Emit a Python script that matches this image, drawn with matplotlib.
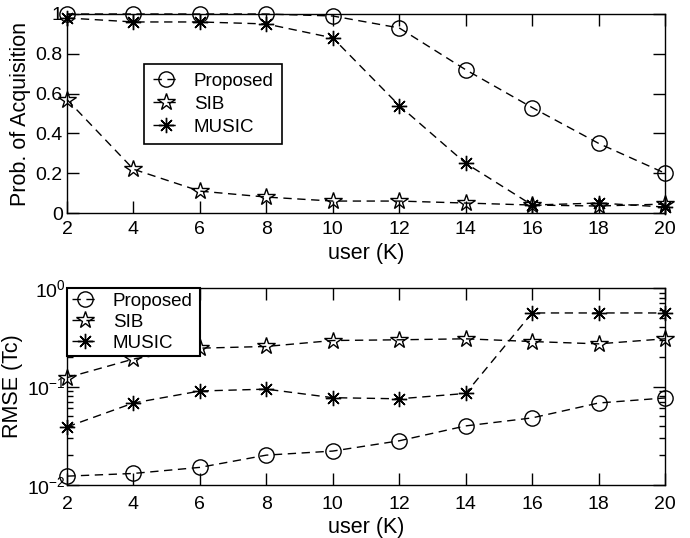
import matplotlib
matplotlib.use("Agg")
import matplotlib.pyplot as plt
from matplotlib.ticker import FixedLocator, FixedFormatter, LogLocator, NullFormatter

plt.rcParams['font.family'] = ['Liberation Sans', 'DejaVu Sans']
plt.rcParams['mathtext.fontset'] = 'custom'
plt.rcParams['mathtext.rm'] = 'Liberation Sans'

users = [2, 4, 6, 8, 10, 12, 14, 16, 18, 20]

# Probability of acquisition
pa_proposed = [1.00, 1.00, 1.00, 1.00, 0.99, 0.93, 0.72, 0.53, 0.35, 0.20]
pa_sib      = [0.57, 0.22, 0.11, 0.08, 0.06, 0.06, 0.05, 0.04, 0.035, 0.045]
pa_music    = [0.98, 0.96, 0.96, 0.95, 0.88, 0.54, 0.25, 0.04, 0.05, 0.03]

# RMSE (Tc)
rm_proposed = [0.0123, 0.0131, 0.0151, 0.0201, 0.0221, 0.0281, 0.0398, 0.048, 0.068, 0.0765]
rm_sib      = [0.123, 0.19, 0.245, 0.255, 0.293, 0.298, 0.305, 0.286, 0.271, 0.305]
rm_music    = [0.0389, 0.068, 0.090, 0.094, 0.077, 0.075, 0.085, 0.558, 0.558, 0.558]

labels = ['Proposed', 'SIB', 'MUSIC']
xticks = [2, 4, 6, 8, 10, 12, 14, 16, 18, 20]
ytick_vals_top = [0, 0.2, 0.4, 0.6, 0.8, 1.0]
ytick_labels_top = ['0', '0.2', '0.4', '0.6', '0.8', '1']

fig = plt.figure(figsize=(6.9, 5.38), dpi=100)
ax1 = fig.add_axes([67/690, 1-213/538, 598/690, 199/538])
ax2 = fig.add_axes([67/690, 1-485/538, 598/690, 197/538])

dash = (0, (6, 4))
styles = [
    dict(marker='o', markersize=11, markerfacecolor='none'),
    dict(marker='*', markersize=13, markerfacecolor='none', markeredgewidth=1.0),
    dict(marker=(8, 2, 0), markersize=11, markeredgewidth=1.0),
]

def draw(ax, series):
    for vals, lab, st in zip(series, labels, styles):
        ax.plot(users, vals, color='black', linestyle=dash, linewidth=1.0,
                markeredgecolor='black', label=lab, clip_on=False, **st)
    ax.set_xlim(2, 20)
    ax.set_xticks(xticks)
    ax.tick_params(axis='both', which='major', direction='in', length=8.5, width=1,
                   top=True, right=True, labelsize=14)
    ax.tick_params(axis='x', which='major', pad=6)
    ax.tick_params(axis='y', which='major', pad=3)
    ax.tick_params(axis='both', which='minor', direction='in', length=4.5, width=1,
                   top=True, right=True)
    for sp in ax.spines.values():
        sp.set_linewidth(1.0)
    ax.set_xlabel('user (K)', fontsize=15.5, labelpad=3)

draw(ax1, [pa_proposed, pa_sib, pa_music])
ax1.set_ylim(0, 1)
ax1.yaxis.set_major_locator(FixedLocator(ytick_vals_top))
ax1.yaxis.set_major_formatter(FixedFormatter(ytick_labels_top))
ax1.set_ylabel('Prob. of Acquisition', fontsize=15.5, labelpad=3)
leg1 = ax1.legend(loc='lower left', bbox_to_anchor=(0.129, 0.347, 0.23, 0.343),
                  mode='expand', fontsize=13.5, handlelength=1.4, handletextpad=0.8,
                  numpoints=1, fancybox=False, framealpha=1, borderpad=0.45,
                  labelspacing=0.3, borderaxespad=0)
leg1.get_frame().set_edgecolor('black')
leg1.get_frame().set_linewidth(1.2)

draw(ax2, [rm_proposed, rm_sib, rm_music])
ax2.set_yscale('log')
ax2.set_ylim(0.01, 1)
ax2.yaxis.set_major_locator(LogLocator(base=10, numticks=5))
ax2.yaxis.set_minor_locator(LogLocator(base=10, subs=range(2, 10), numticks=10))
ax2.yaxis.set_minor_formatter(NullFormatter())
ax2.tick_params(axis='y', which='major', pad=1)
ax2.tick_params(axis='x', which='major', pad=8)
ax2.set_ylabel('RMSE (Tc)', fontsize=15.5, labelpad=3)
leg2 = ax2.legend(loc='upper left', bbox_to_anchor=(0.0, 0.653, 0.222, 0.347),
                  mode='expand', fontsize=13.5, handlelength=1.4, handletextpad=0.8,
                  numpoints=1, fancybox=False, framealpha=1, borderpad=0.25,
                  labelspacing=0.2, borderaxespad=0)
leg2.get_frame().set_edgecolor('black')
leg2.get_frame().set_linewidth(1.5)

fig.savefig('out.png', dpi=100)
